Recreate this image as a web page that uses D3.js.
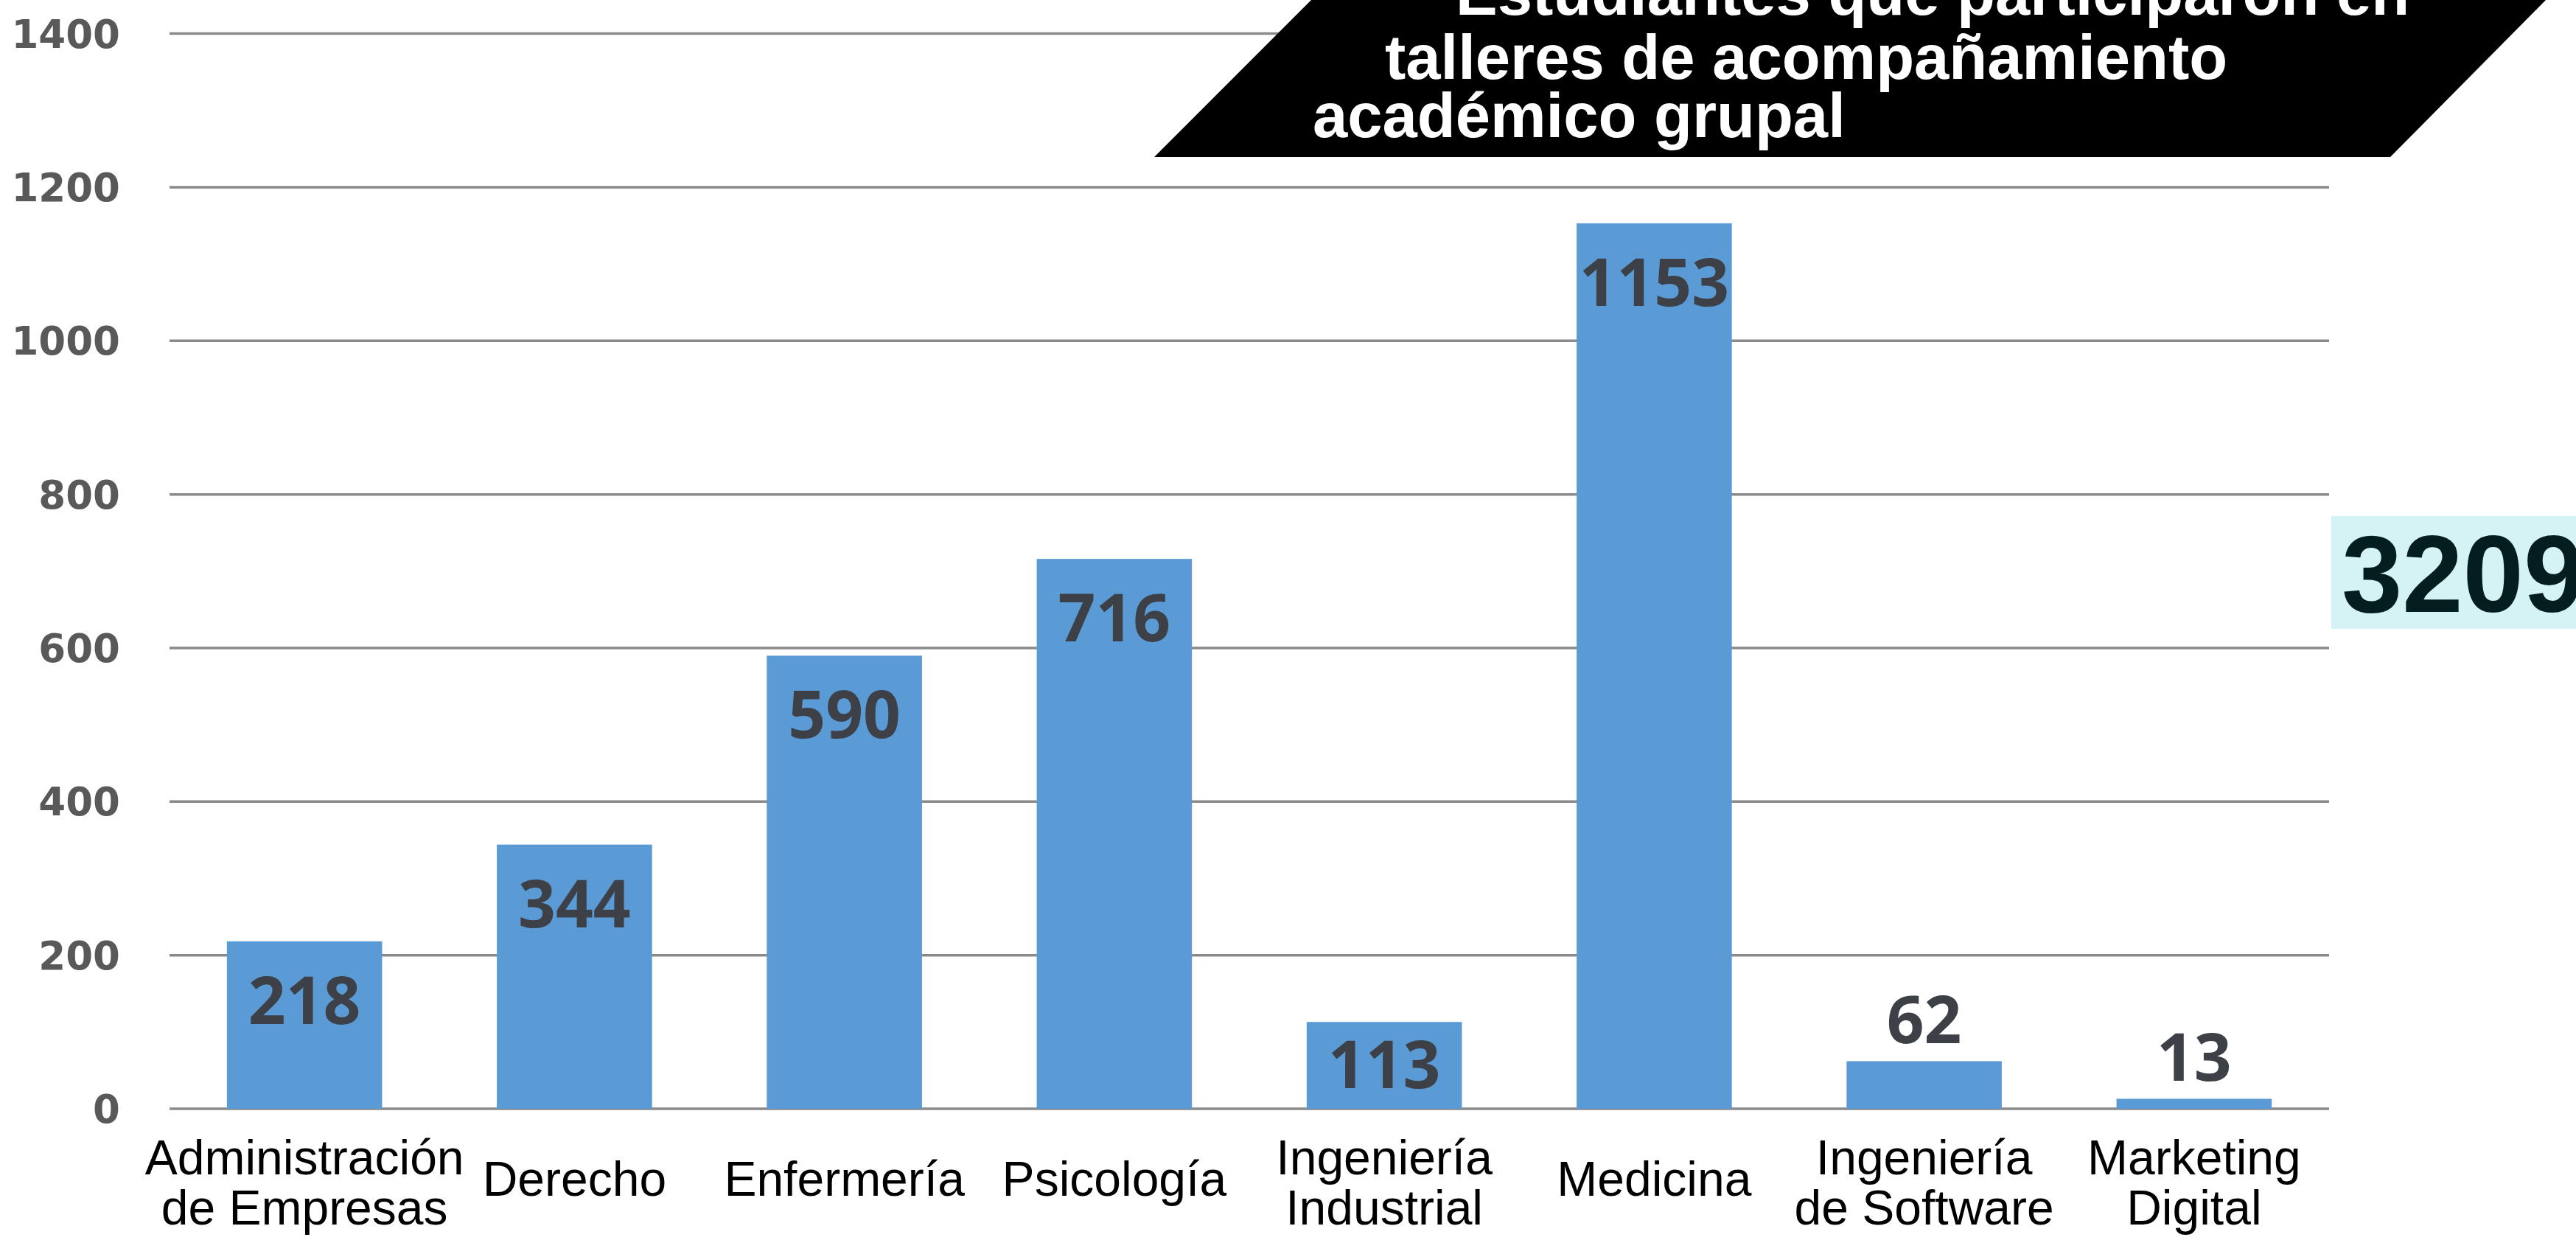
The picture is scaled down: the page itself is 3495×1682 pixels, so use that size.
<!DOCTYPE html>
<html>
<head>
<meta charset="utf-8">
<script src="https://cdn.jsdelivr.net/npm/d3@7"></script>
<style>
  html, body { margin: 0; padding: 0; background: #ffffff; }
  svg { display: block; }
</style>
</head>
<body>
<script>
// ---- Data ----
const categories = [
  "Administración\nde Empresas",
  "Derecho",
  "Enfermería",
  "Psicología",
  "Ingeniería\nIndustrial",
  "Medicina",
  "Ingeniería\nde Software",
  "Marketing\nDigital"
];
const values = [218, 344, 590, 716, 113, 1153, 62, 13];
const yTicks = [0, 200, 400, 600, 800, 1000, 1200, 1400];
const titleLines = ["Estudiantes que participaron en", "talleres de acompañamiento", "académico grupal"];
const totalLabel = "3209";

// ---- Layout ----
const W = 3495, H = 1682;
const svg = d3.select("body").append("svg").attr("width", W).attr("height", H);
svg.append("rect").attr("width", W).attr("height", H).attr("fill", "#ffffff");

const x = d3.scaleBand().domain(categories).range([230, 3160]).paddingInner(0.425).paddingOuter(0.2125);
const y = d3.scaleLinear().domain([0, 1400]).range([1504, 45.6]);

// gridlines
svg.append("g").selectAll("line").data(yTicks).join("line")
  .attr("x1", 230).attr("x2", 3160)
  .attr("y1", d => y(d)).attr("y2", d => y(d))
  .attr("stroke", "#8a8a8a").attr("stroke-width", 3.5);

// y axis tick labels
svg.append("g").selectAll("text").data(yTicks).join("text")
  .attr("x", 163).attr("y", d => y(d) + 19)
  .attr("text-anchor", "end")
  .attr("font-family", "DejaVu Sans, Verdana, sans-serif")
  .attr("font-weight", "bold").attr("font-size", 53)
  .attr("fill", "#595959")
  .text(d => d);

// bars
svg.append("g").selectAll("rect").data(values).join("rect")
  .attr("x", (d, i) => x(categories[i]))
  .attr("width", x.bandwidth())
  .attr("y", d => y(d))
  .attr("height", d => y(0) - y(d))
  .attr("fill", "#5b9bd5");

// data labels
function labelY(v) {
  const top = y(v), base = y(0);
  if (base - top >= 190) return top + 112;
  if (base - top >= 100) return (top + base) / 2 + 31;
  return top - 24;
}
svg.append("g").selectAll("text").data(values).join("text")
  .attr("x", (d, i) => x(categories[i]) + x.bandwidth() / 2)
  .attr("y", d => labelY(d))
  .attr("text-anchor", "middle")
  .attr("font-family", "Open Sans, Lato, sans-serif")
  .attr("font-weight", "bold").attr("font-size", 89)
  .attr("fill", "#3d4046")
  .text(d => d);

// category labels
const catG = svg.append("g");
categories.forEach(c => {
  const lines = c.split("\n");
  const cx = x(c) + x.bandwidth() / 2;
  if (lines.length === 1) {
    catG.append("text").attr("x", cx).attr("y", 1622)
      .attr("text-anchor", "middle")
      .attr("font-family", "Liberation Sans, Arial, sans-serif")
      .attr("font-size", 66).attr("fill", "#000000")
      .text(lines[0]);
  } else {
    lines.forEach((l, k) => catG.append("text").attr("x", cx).attr("y", 1593 + k * 68)
      .attr("text-anchor", "middle")
      .attr("font-family", "Liberation Sans, Arial, sans-serif")
      .attr("font-size", 66).attr("fill", "#000000")
      .text(l));
  }
});

// title banner (parallelogram)
svg.append("path")
  .attr("d", "M1566,213 L1779,0 L1779,-10 L3464,-10 L3454,0 L3243,213 Z")
  .attr("fill", "#000000");
const titleX = [1975, 1879, 1781];
const titleY = [20, 107, 186];
const tt = svg.append("g")
  .attr("font-family", "Liberation Sans, Arial, sans-serif")
  .attr("font-weight", "bold").attr("font-size", 85).attr("fill", "#ffffff");
titleLines.forEach((l, k) => {
  tt.append("text").attr("x", titleX[k]).attr("y", titleY[k]).text(l);
});

// total box
svg.append("rect").attr("x", 3163).attr("y", 700).attr("width", 340).attr("height", 153)
  .attr("fill", "#d5f3f5");
svg.append("text").attr("x", 3177).attr("y", 830)
  .attr("font-family", "Liberation Sans, Arial, sans-serif")
  .attr("font-weight", "bold").attr("font-size", 148)
  .attr("fill", "#041e20")
  .text(totalLabel);
</script>
</body>
</html>
